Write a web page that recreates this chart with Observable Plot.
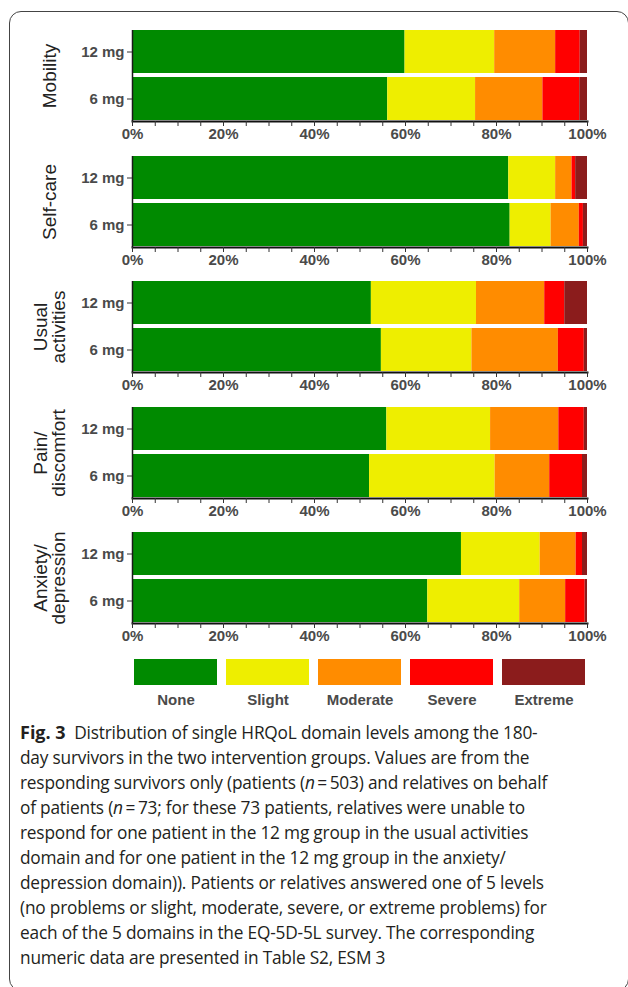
<!DOCTYPE html>
<html><head><meta charset="utf-8">
<script src="https://cdn.jsdelivr.net/npm/d3@7"></script>
<script src="https://cdn.jsdelivr.net/npm/@observablehq/plot@0.6"></script>
<style>
html,body{margin:0;padding:0;background:#fff;width:628px;height:987px;overflow:hidden;position:relative;}
#box{position:absolute;left:9px;top:11px;width:620px;height:980px;border:1.2px solid #444;border-radius:12px;box-sizing:border-box;}
.panel{position:absolute;left:0;}
.panel svg{display:block;overflow:visible;}
#caption{position:absolute;left:20px;top:720px;font-family:"Open Sans",sans-serif;font-size:17.3px;line-height:25px;color:#231f20;white-space:nowrap;letter-spacing:-0.2px;}
#caption b{font-weight:700;letter-spacing:0;font-size:18px;}
</style></head><body>
<div id="box"></div>
<div id="charts"></div>
<div id="caption"></div>
<script>
// ---- data ----
const levels = ["None", "Slight", "Moderate", "Severe", "Extreme"];
const levelColors = ["#008a00", "#eeee00", "#ff8c00", "#ff0000", "#8b1c1c"];
const doses = ["12 mg", "6 mg"];
const domainLabels = ["Mobility", "Self-care", "Usual\nactivities", "Pain/\ndiscomfort", "Anxiety/\ndepression"];
const mobility12 = [59.9, 19.7, 13.4, 5.4, 1.6];
const mobility6 = [56.1, 19.3, 14.8, 8.1, 1.7];
const selfcare12 = [82.7, 10.3, 3.6, 0.8, 2.6];
const selfcare6 = [83.0, 9.0, 6.2, 0.9, 0.9];
const usual12 = [52.5, 23.1, 15.0, 4.4, 5.0];
const usual6 = [54.7, 19.9, 19.0, 5.7, 0.7];
const pain12 = [55.9, 22.8, 15.0, 5.6, 0.7];
const pain6 = [52.1, 27.6, 12.0, 7.2, 1.1];
const anxiety12 = [72.3, 17.3, 7.9, 1.4, 1.1];
const anxiety6 = [64.9, 20.2, 10.1, 4.3, 0.5];
const xTicks = d3.range(0, 21).map(i => i / 20);
const captionLines = [
  "<b>Fig. 3</b>&nbsp; Distribution of single HRQoL domain levels among the 180-",
  "day survivors in the two intervention groups. Values are from the",
  "responding survivors only (patients (<i>n</i>\u2009=\u2009503) and relatives on behalf",
  "of patients (<i>n</i>\u2009=\u200973; for these 73 patients, relatives were unable to",
  "respond for one patient in the 12 mg group in the usual activities",
  "domain and for one patient in the 12 mg group in the anxiety/",
  "depression domain)). Patients or relatives answered one of 5 levels",
  "(no problems or slight, moderate, severe, or extreme problems) for",
  "each of the 5 domains in the EQ-5D-5L survey. The corresponding",
  "numeric data are presented in Table S2, ESM 3"
];

const panels = [
  [mobility12, mobility6],
  [selfcare12, selfcare6],
  [usual12, usual6],
  [pain12, pain6],
  [anxiety12, anxiety6]
];

// ---- build ----
const W = 628, ML = 132, MR = 41;
const fontFam = "'Liberation Sans', Arial, sans-serif";
const charts = document.getElementById("charts");

panels.forEach((pair, i) => {
  const rows = [];
  pair.forEach((vals, j) => vals.forEach((v, k) => rows.push({dose: doses[j], level: levels[k], value: v})));
  const chart = Plot.plot({
    width: W, height: 126,
    marginLeft: ML, marginRight: MR, marginTop: 15, marginBottom: 20,
    style: {fontFamily: fontFam, background: "transparent", overflow: "visible"},
    x: {domain: [0, 1]},
    y: {domain: doses, paddingInner: 0.084, paddingOuter: 0},
    color: {domain: levels, range: levelColors},
    marks: [
      Plot.barX(rows, {x: "value", y: "dose", fill: "level", offset: "normalize", inset: 0}),
      Plot.ruleX([0], {stroke: "#1a1a1a", strokeWidth: 1.5}),
      Plot.frame({anchor: "bottom", stroke: "#111", strokeWidth: 2}),
      Plot.axisY({tickSize: 5, tickPadding: 3, fontSize: 15, fontWeight: "bold", fill: "#4a4a4a", stroke: "#333", label: null}),
      Plot.axisX({ticks: xTicks, tickFormat: d => (Math.round(d * 100) % 20 === 0 ? d3.format(".0%")(d) : ""),
        tickSize: 5, tickPadding: 2, fontSize: 15, fontWeight: "bold", fill: "#4a4a4a", stroke: "#333", label: null}),
      Plot.text([domainLabels[i]], {text: d => d, frameAnchor: "left", textAnchor: "middle", lineAnchor: "middle", dx: -82, rotate: -90, fontSize: 19, lineHeight: 0.95, fill: "#222"})
    ]
  });
  const div = document.createElement("div");
  div.className = "panel";
  div.style.top = (15 + i * 125.6) + "px";
  div.appendChild(chart);
  charts.appendChild(div);
});

// legend
const legend = Plot.plot({
  width: W, height: 62,
  marginLeft: ML, marginRight: MR, marginTop: 9, marginBottom: 27,
  style: {fontFamily: fontFam, background: "transparent"},
  x: {domain: levels, paddingInner: 0.1, paddingOuter: 0},
  color: {domain: levels, range: levelColors},
  marks: [
    Plot.cell(levels, {x: d => d, fill: d => d}),
    Plot.axisX({tickSize: 0, tickPadding: 9, fontSize: 15, fontWeight: "bold", fill: "#4a4a4a", label: null})
  ]
});
const ldiv = document.createElement("div");
ldiv.className = "panel";
ldiv.style.top = "650px";
ldiv.appendChild(legend);
charts.appendChild(ldiv);

document.getElementById("caption").innerHTML = captionLines.join("<br>");
</script>
</body></html>
